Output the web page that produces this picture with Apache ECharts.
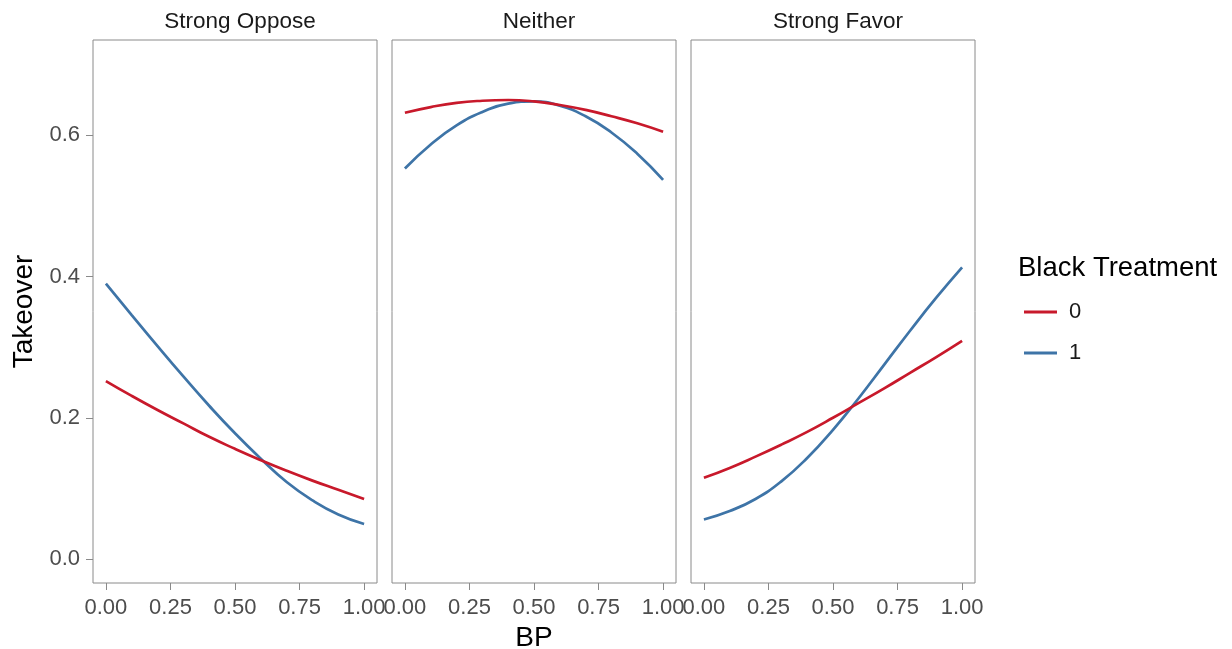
<!DOCTYPE html>
<html>
<head>
<meta charset="utf-8">
<script src="https://cdn.jsdelivr.net/npm/echarts@6/dist/echarts.min.js"></script>
<style>
html,body{margin:0;padding:0;background:#fff;}
#chart{width:1232px;height:649px;}
</style>
</head>
<body>
<div id="chart"></div>
<script>
// ---- data ----
const panels = ['Strong Oppose', 'Neither', 'Strong Favor'];
const bp = [0, 0.1, 0.2, 0.3, 0.4, 0.5, 0.6, 0.7, 0.8, 0.9, 1.0];
const opposeT0 = [0.252, 0.231, 0.211, 0.192, 0.173, 0.156, 0.140, 0.125, 0.111, 0.098, 0.085];
const opposeT1 = [0.390, 0.3455, 0.3015, 0.2585, 0.217, 0.178, 0.142, 0.109, 0.083, 0.063, 0.0495];
const neitherT0 = [0.632, 0.640, 0.646, 0.649, 0.650, 0.648, 0.643, 0.636, 0.627, 0.617, 0.605];
const neitherT1 = [0.553, 0.587, 0.614, 0.633, 0.645, 0.648, 0.642, 0.627, 0.604, 0.574, 0.537];
const favorT0 = [0.115, 0.129, 0.145, 0.162, 0.180, 0.200, 0.221, 0.242, 0.264, 0.286, 0.309];
const favorT1 = [0.056, 0.068, 0.085, 0.110, 0.143, 0.183, 0.228, 0.276, 0.324, 0.370, 0.413];
const xTicks = [0, 0.25, 0.5, 0.75, 1.0];
const yTicks = [0, 0.2, 0.4, 0.6];
const legendTitle = 'Black Treatment';
const groups = ['0', '1'];

// ---- styles ----
const FONT = '"Liberation Sans", Arial, Helvetica, sans-serif';
const RED = '#C8192B';
const BLUE = '#3E74A7';
const BORDER = '#8a8a8a';
const panelLefts = [93, 392, 691];
const panelW = 284, panelTop = 40, panelH = 543;

const pairs = (ys) => bp.map((x, i) => [x, ys[i]]);
const seriesData = [[opposeT0, opposeT1], [neitherT0, neitherT1], [favorT0, favorT1]];

const grids = panelLefts.map(l => ({
  left: l, top: panelTop, width: panelW, height: panelH,
  outerBoundsMode: 'none', containLabel: false,
  show: true, borderColor: BORDER, borderWidth: 1, backgroundColor: '#fff'
}));

const xAxes = panelLefts.map((l, i) => ({
  type: 'value', gridIndex: i, min: -0.05, max: 1.05,
  axisLine: {show: false, onZero: false},
  splitLine: {show: false},
  axisTick: {show: true, length: 7, lineStyle: {color: BORDER, width: 1}, customValues: xTicks},
  axisLabel: {show: true, customValues: xTicks, formatter: v => v.toFixed(2),
    color: '#4d4d4d', fontSize: 22, fontFamily: FONT, margin: 14},
  name: i === 1 ? 'BP' : '', nameLocation: 'middle', nameGap: 40,
  nameTextStyle: {color: '#000', fontSize: 28, fontFamily: FONT}
}));

const yAxes = panelLefts.map((l, i) => ({
  type: 'value', gridIndex: i, min: -0.034, max: 0.735,
  axisLine: {show: false, onZero: false},
  splitLine: {show: false},
  axisTick: {show: i === 0, length: 7, lineStyle: {color: BORDER, width: 1}, customValues: yTicks},
  axisLabel: {show: i === 0, customValues: yTicks, formatter: v => v.toFixed(1),
    color: '#4d4d4d', fontSize: 22, fontFamily: FONT, margin: 13},
  name: i === 0 ? 'Takeover' : '', nameLocation: 'middle', nameGap: 55,
  nameTextStyle: {color: '#000', fontSize: 28, fontFamily: FONT}
}));

const series = [];
seriesData.forEach((pair, i) => {
  pair.forEach((ys, g) => {
    series.push({
      name: groups[g], type: 'line', xAxisIndex: i, yAxisIndex: i,
      data: pairs(ys), smooth: 0.5, symbol: 'none', showSymbol: false,
      lineStyle: {color: g === 0 ? RED : BLUE, width: 2.7},
      itemStyle: {color: g === 0 ? RED : BLUE},
      z: g === 0 ? 3 : 2
    });
  });
});

const titles = panels.map((p, i) => ({
  text: p, left: panelLefts[i] + panelW / 2, top: 5, textAlign: 'center',
  textStyle: {color: '#1a1a1a', fontSize: 22.5, fontWeight: 'normal', fontFamily: FONT}
}));
titles.push({
  text: legendTitle, left: 1013, top: 249,
  textStyle: {color: '#000', fontSize: 27.5, fontWeight: 'normal', fontFamily: FONT}
});

const chart = echarts.init(document.getElementById('chart'), null, {renderer: 'canvas'});
chart.setOption({
  animation: false,
  backgroundColor: '#fff',
  title: titles,
  grid: grids,
  xAxis: xAxes,
  yAxis: yAxes,
  legend: {
    data: groups, orient: 'vertical', left: 1019, top: 296,
    icon: 'rect', itemWidth: 33, itemHeight: 3, itemGap: 19,
    textStyle: {color: '#1a1a1a', fontSize: 22, fontFamily: FONT, padding: [0, 0, 0, 7]},
    selectedMode: false
  },
  series: series
});
</script>
</body>
</html>
